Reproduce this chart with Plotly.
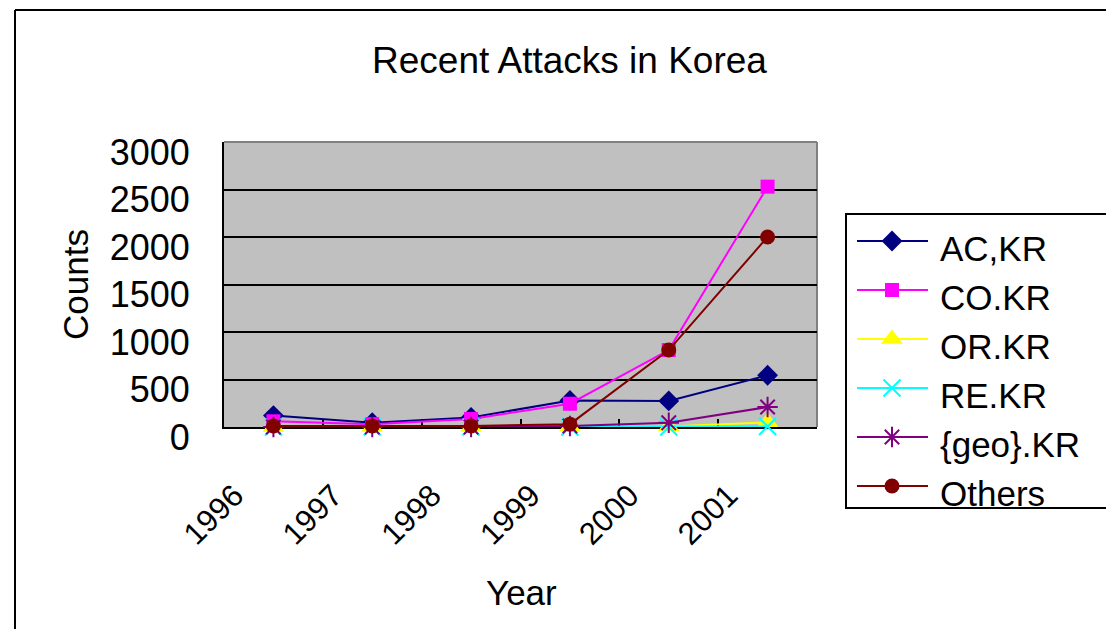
import plotly.graph_objects as go

# Yearly attack counts per Korean domain category
years = ["1996", "1997", "1998", "1999", "2000", "2001"]
ac_kr = [120, 45, 100, 280, 275, 545]
co_kr = [60, 30, 85, 245, 810, 2530]
or_kr = [0, 0, 0, 5, 5, 50]
re_kr = [0, 0, 0, 0, 0, 5]
geo_kr = [0, 0, 0, 10, 45, 210]
others = [10, 10, 10, 30, 810, 2000]

series_names = ["AC,KR", "CO.KR", "OR.KR", "RE.KR", "{geo}.KR", "Others"]
series_values = [ac_kr, co_kr, or_kr, re_kr, geo_kr, others]
y_ticks = [0, 500, 1000, 1500, 2000, 2500, 3000]

W, H = 1106, 629
FONT = "Liberation Sans, Arial, sans-serif"

styles = [
    dict(color="#000080", symbol="diamond", size=16, lw=0),
    dict(color="#FF00FF", symbol="square", size=14, lw=0),
    dict(color="#FFFF00", symbol="triangle-up", size=19, lw=0),
    dict(color="#00FFFF", symbol="x-thin-open", size=17, lw=2),
    dict(color="#800080", symbol="asterisk-open", size=17, lw=2),
    dict(color="#800000", symbol="circle", size=15, lw=0),
]


def marker_of(st):
    return dict(symbol=st["symbol"], size=st["size"], color=st["color"],
                line=dict(color=st["color"], width=st["lw"]))


fig = go.Figure()

for name, vals, st in zip(series_names, series_values, styles):
    fig.add_trace(go.Scatter(
        x=years, y=vals, name=name, mode="lines+markers",
        line=dict(color=st["color"], width=2),
        marker=marker_of(st), cliponaxis=False, showlegend=False,
        xaxis="x", yaxis="y",
    ))

# Hand-drawn legend on a pixel-unit overlay axis pair
leg_left, leg_top, leg_bottom = 846, 214, 508
row_y = [241, 290, 339, 388, 437, 486]
line_x0, line_x1, sym_x, text_x = 857, 928, 892, 938

for name, st, ry in zip(series_names, styles, row_y):
    fig.add_trace(go.Scatter(
        x=[sym_x], y=[ry], mode="markers", marker=marker_of(st),
        xaxis="x2", yaxis="y2", showlegend=False, hoverinfo="skip",
        cliponaxis=False,
    ))

shapes = [
    # gray plot area
    dict(type="rect", xref="x domain", yref="y domain", x0=0, x1=1, y0=0, y1=1,
         fillcolor="#C0C0C0", line=dict(width=0), layer="below"),
    # gray frame on top and right of the plot area
    dict(type="line", xref="x domain", yref="y domain", x0=0, x1=1, y0=1, y1=1,
         line=dict(color="#808080", width=2), layer="below"),
    dict(type="line", xref="x domain", yref="y domain", x0=1, x1=1, y0=0, y1=1,
         line=dict(color="#808080", width=2), layer="below"),
    # outer chart frame
    dict(type="line", xref="x2", yref="y2", x0=15, x1=15, y0=10, y1=H + 5,
         line=dict(color="black", width=2)),
    dict(type="line", xref="x2", yref="y2", x0=15, x1=W + 5, y0=10, y1=10,
         line=dict(color="black", width=2)),
    # legend box
    dict(type="rect", xref="x2", yref="y2", x0=leg_left, x1=W + 20,
         y0=leg_top, y1=leg_bottom, line=dict(color="black", width=2),
         fillcolor="rgba(0,0,0,0)"),
]
for st, ry in zip(styles, row_y):
    shapes.append(dict(type="line", xref="x2", yref="y2", x0=line_x0, x1=line_x1,
                       y0=ry, y1=ry, line=dict(color=st["color"], width=2)))

annotations = [
    dict(text="Recent Attacks in Korea", x=569, y=60, xref="x2", yref="y2",
         showarrow=False, font=dict(size=37, color="black", family=FONT)),
    dict(text="Year", x=521, y=592, xref="x2", yref="y2",
         showarrow=False, font=dict(size=35, color="black", family=FONT)),
    dict(text="Counts", x=75, y=285, xref="x2", yref="y2", textangle=-90,
         showarrow=False, font=dict(size=35, color="black", family=FONT)),
]
for name, ry in zip(series_names, row_y):
    annotations.append(dict(text=name, x=text_x, y=ry + 7, xref="x2", yref="y2",
                            xanchor="left", showarrow=False,
                            font=dict(size=35, color="black", family=FONT)))

fig.update_layout(
    width=W, height=H,
    margin=dict(l=0, r=0, t=0, b=0, autoexpand=False),
    paper_bgcolor="white",
    plot_bgcolor="rgba(0,0,0,0)",
    font=dict(family=FONT, color="black"),
    showlegend=False,
    shapes=shapes,
    annotations=annotations,
    xaxis=dict(
        type="category", domain=[224 / W, 817 / W], range=[-0.5, 5.5],
        anchor="y", showline=True, linecolor="black", linewidth=2,
        ticks="inside", tickson="boundaries", ticklen=8, tickwidth=2,
        tickcolor="black", showgrid=False, tickangle=-45,
        tickfont=dict(size=31, family=FONT, color="black"),
        ticklabelstandoff=36, ticklabelshift=-39, layer="below traces",
        fixedrange=True,
    ),
    yaxis=dict(
        domain=[1 - 427 / H, 1 - 142 / H], range=[0, 3000], anchor="x",
        tickvals=y_ticks, tickformat="d", showgrid=True, gridcolor="black",
        gridwidth=2, showline=True, linecolor="black", linewidth=2,
        ticks="", zeroline=False, ticklabelstandoff=25, ticklabelshift=10,
        tickfont=dict(size=36, family=FONT, color="black"),
        layer="below traces", fixedrange=True,
    ),
    xaxis2=dict(domain=[0, 1], range=[0, W], anchor="y2", visible=False,
                fixedrange=True),
    yaxis2=dict(domain=[0, 1], range=[H, 0], anchor="x2", visible=False,
                fixedrange=True),
)

fig.write_html("out.html", config={"displayModeBar": False})
